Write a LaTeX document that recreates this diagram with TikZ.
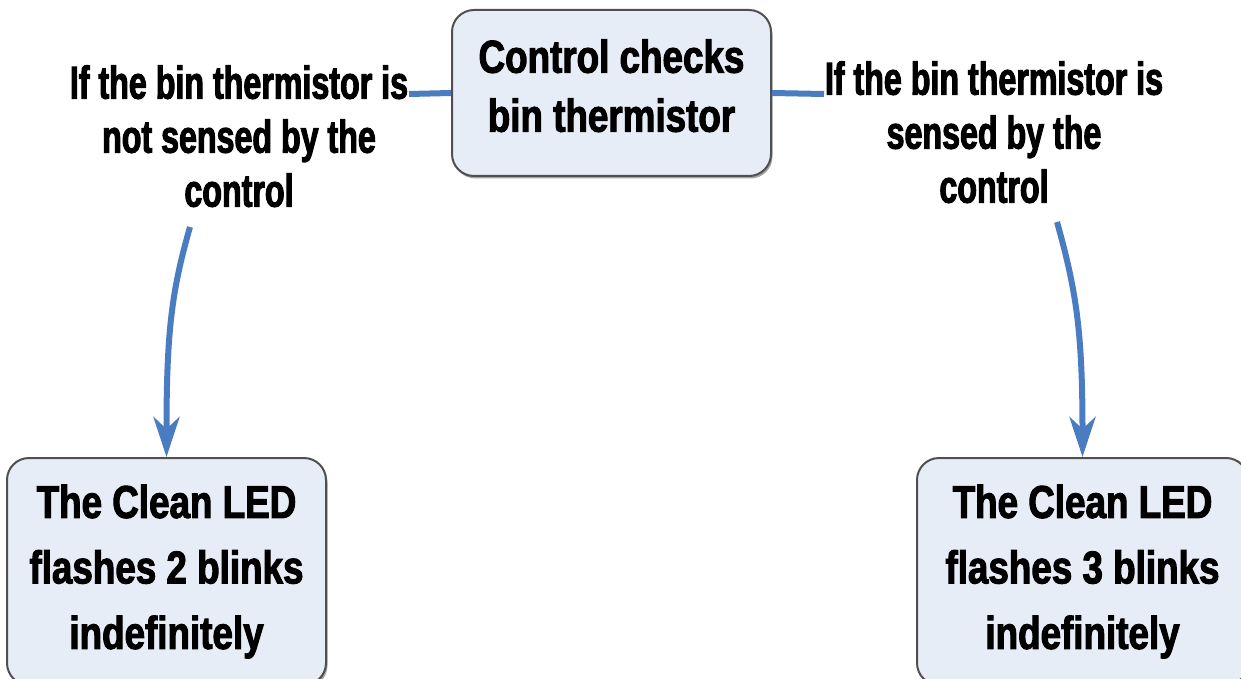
\documentclass[tikz,border=0pt]{standalone}
\usepackage{fontspec}
\setmainfont{Liberation Sans}
\newfontfamily\boxfont[FakeStretch=0.8, FakeBold=2.2, UprightFont={Liberation Sans Bold}, BoldFont={Liberation Sans Bold}]{Liberation Sans}
\newfontfamily\labfont[FakeStretch=0.7, FakeBold=2.2, UprightFont={Liberation Sans Bold}, BoldFont={Liberation Sans Bold}]{Liberation Sans}
\usetikzlibrary{arrows.meta,shadows}
\definecolor{boxfill}{HTML}{E7EDF7}
\definecolor{boxline}{HTML}{505050}
\definecolor{arrowblue}{HTML}{4A7CC2}
\tikzset{
  flowbox/.style={draw=boxline, line width=2pt, fill=boxfill, rounded corners=22pt,
    align=center, inner sep=0pt, font=\boxfont\fontsize{46}{59}\selectfont,
    drop shadow={shadow xshift=1.5pt, shadow yshift=-2.5pt, fill=black!45, opacity=0.8}},
  condlabel/.style={align=center, inner sep=0pt, font=\labfont\fontsize{46}{54}\selectfont},
  link/.style={draw=arrowblue, line width=6pt},
  flowarrow/.style={link, -{Stealth[length=40pt, width=26pt, inset=12pt]}}
}
\begin{document}
\begin{tikzpicture}[x=1pt, y=-1pt]
\useasboundingbox (0,0) rectangle (1241,679);
\clip (0,0) rectangle (1241,679);
% top box
\node[flowbox, minimum width=319pt, minimum height=166pt, text depth=15pt] (top) at (611.5,93)
  {Control checks\\bin thermistor};
% condition labels
\node[condlabel] (labL) at (239,136.2) {If the bin thermistor is\\not sensed by the\\control};
\node[condlabel] (labR) at (994,132.2) {If the bin thermistor is\\sensed by the\\control};
% bottom boxes
\node[flowbox, anchor=north, minimum width=319pt, minimum height=227pt,
  font=\boxfont\fontsize{46}{65.5}\selectfont] (resL) at (166.5,457)
  {The Clean LED\\flashes 2 blinks\\indefinitely};
\node[flowbox, anchor=north, minimum width=331pt, minimum height=227pt,
  font=\boxfont\fontsize{46}{65.5}\selectfont] (resR) at (1082.5,457)
  {The Clean LED\\flashes 3 blinks\\indefinitely};
% connector endpoints
\coordinate (stubL) at (409,94);
\coordinate (stubR) at (824,94);
\coordinate (startL) at (190,227);
\coordinate (startR) at (1057,222);
% connectors
\draw[link] (top.west) -- (stubL);
\draw[link] (top.east) -- (stubR);
\draw[flowarrow] (startL) .. controls (172,290) and (166.5,330) .. (resL.north);
\draw[flowarrow] (startR) .. controls (1076,290) and (1082.5,330) .. (resR.north);
\end{tikzpicture}
\end{document}
